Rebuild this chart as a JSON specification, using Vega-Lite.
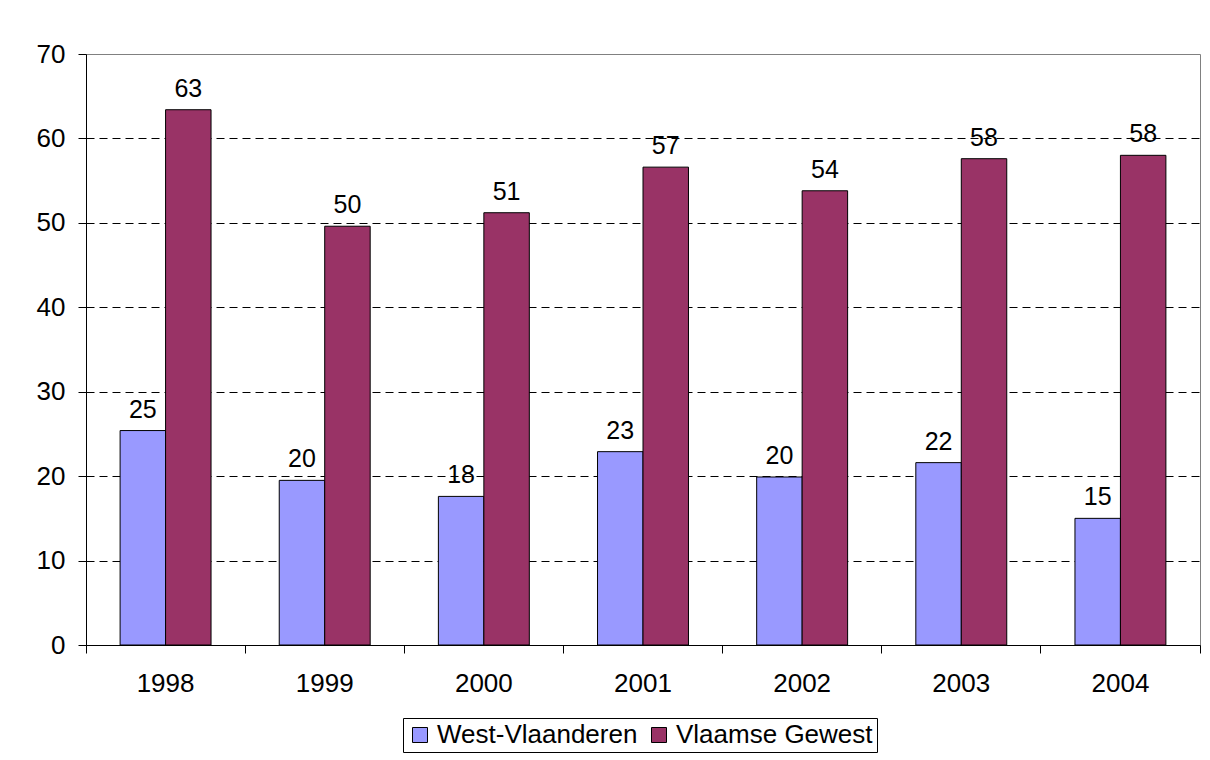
{
  "$schema": "https://vega.github.io/schema/vega-lite/v6.json",
  "width": 1114,
  "height": 591,
  "autosize": {"type": "none"},
  "padding": {"left": 86, "top": 54, "right": 10, "bottom": 115},
  "background": "white",
  "config": {
    "view": {"stroke": "#808080", "strokeWidth": 1},
    "font": "Liberation Sans"
  },
  "data": {
    "values": [
      {"year": "1998", "series": "West-Vlaanderen", "value": 25.4, "label": "25"},
      {"year": "1998", "series": "Vlaamse Gewest", "value": 63.4, "label": "63"},
      {"year": "1999", "series": "West-Vlaanderen", "value": 19.5, "label": "20"},
      {"year": "1999", "series": "Vlaamse Gewest", "value": 49.6, "label": "50"},
      {"year": "2000", "series": "West-Vlaanderen", "value": 17.6, "label": "18"},
      {"year": "2000", "series": "Vlaamse Gewest", "value": 51.2, "label": "51"},
      {"year": "2001", "series": "West-Vlaanderen", "value": 22.9, "label": "23"},
      {"year": "2001", "series": "Vlaamse Gewest", "value": 56.6, "label": "57"},
      {"year": "2002", "series": "West-Vlaanderen", "value": 19.9, "label": "20"},
      {"year": "2002", "series": "Vlaamse Gewest", "value": 53.8, "label": "54"},
      {"year": "2003", "series": "West-Vlaanderen", "value": 21.6, "label": "22"},
      {"year": "2003", "series": "Vlaamse Gewest", "value": 57.6, "label": "58"},
      {"year": "2004", "series": "West-Vlaanderen", "value": 15.0, "label": "15"},
      {"year": "2004", "series": "Vlaamse Gewest", "value": 58.0, "label": "58"}
    ]
  },
  "encoding": {
    "x": {
      "field": "year",
      "type": "nominal",
      "scale": {"paddingInner": 0, "paddingOuter": 0},
      "axis": {
        "title": null,
        "labelAngle": 0,
        "bandPosition": 1,
        "tickExtra": true,
        "tickSize": 8,
        "tickColor": "black",
        "domainColor": "black",
        "labelFontSize": 26,
        "labelColor": "black",
        "labelPadding": 17
      }
    },
    "xOffset": {
      "field": "series",
      "type": "nominal",
      "sort": ["West-Vlaanderen", "Vlaamse Gewest"],
      "scale": {"paddingInner": 0, "paddingOuter": 0.75}
    },
    "y": {
      "field": "value",
      "type": "quantitative",
      "scale": {"domain": [0, 70], "nice": false},
      "axis": {
        "title": null,
        "values": [0, 10, 20, 30, 40, 50, 60, 70],
        "grid": true,
        "gridColor": {"condition": {"test": "datum.value === 70", "value": "transparent"}, "value": "#000000"},
        "gridDash": [8, 5],
        "gridWidth": 1,
        "domainColor": "black",
        "tickColor": "black",
        "tickSize": 8,
        "labelFontSize": 26,
        "labelColor": "black",
        "labelPadding": 13
      }
    }
  },
  "layer": [
    {
      "mark": {"type": "bar", "stroke": "black", "strokeWidth": 1},
      "encoding": {
        "color": {
          "field": "series",
          "type": "nominal",
          "sort": ["West-Vlaanderen", "Vlaamse Gewest"],
          "scale": {"domain": ["West-Vlaanderen", "Vlaamse Gewest"], "range": ["#9999FF", "#993366"]},
          "legend": {
            "title": null,
            "orient": "none",
            "direction": "horizontal",
            "legendX": 317,
            "legendY": 664,
            "strokeColor": "black",
            "fillColor": "white",
            "padding": 4,
            "symbolType": "square",
            "symbolSize": 225,
            "symbolStrokeColor": "black",
            "symbolStrokeWidth": 1,
            "symbolOpacity": 1,
            "labelFontSize": 26,
            "labelLimit": 500,
            "labelColor": "black",
            "labelOffset": 4,
            "columnPadding": 8
          }
        }
      }
    },
    {
      "mark": {"type": "text", "baseline": "alphabetic", "dy": -13, "fontSize": 25, "color": "black"},
      "encoding": {"text": {"field": "label"}}
    }
  ]
}
